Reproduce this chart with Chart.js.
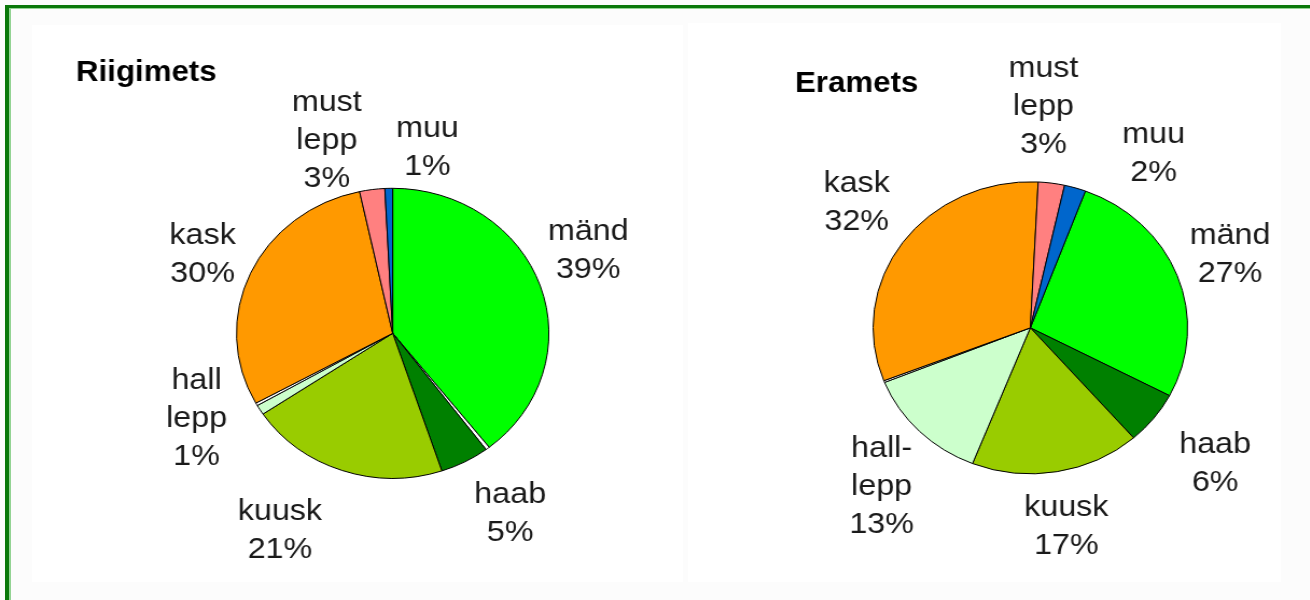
<!DOCTYPE html>
<html>
<head>
<meta charset="utf-8">
<script src="https://cdn.jsdelivr.net/npm/chart.js@4.4.1/dist/chart.umd.min.js"></script>
<style>
html,body{margin:0;padding:0;}
body{width:1310px;height:600px;background:#fcfcfc;position:relative;overflow:hidden;font-family:"Liberation Sans",Arial,sans-serif;}
#frameDark{position:absolute;left:5px;top:5px;right:0;bottom:0;border-left:4px solid #0a780a;border-top:3px solid #0a780a;}
#frameLight{position:absolute;left:9px;top:8px;right:0;bottom:0;border-left:2px solid #93d393;border-top:1px solid #93d393;}
.panel{position:absolute;background:#fff;}
#p1{left:32px;top:25px;width:651px;height:557px;}
#p2{left:688px;top:23px;width:593px;height:559px;}
.wrap{position:absolute;top:0;width:609px;height:600px;transform:scaleX(1.077);transform-origin:0 0;}
#w1{left:0;}
#w2{left:655px;}
canvas{display:block;}
</style>
</head>
<body>
<div id="frameDark"></div>
<div id="frameLight"></div>
<div class="panel" id="p1"></div>
<div class="panel" id="p2"></div>
<div class="wrap" id="w1"><canvas id="c1" width="609" height="600"></canvas></div>
<div class="wrap" id="w2"><canvas id="c2" width="609" height="600"></canvas></div>
<script>
// ---- data ----
const titleRiigimets = 'Riigimets';
const titleEramets = 'Eramets';
const categoriesRiigimets = ['mänd', '', 'haab', 'kuusk', ['hall', 'lepp'], '', 'kask', ['must', 'lepp'], 'muu'];
const categoriesEramets   = ['mänd', '', 'haab', 'kuusk', ['hall-', 'lepp'], '', 'kask', ['must', 'lepp'], 'muu'];
const valuesRiigimets = [39.4, 0.4, 5.1, 20.7, 1.1, 0.3, 29.6, 2.6, 0.8];
const valuesEramets   = [27.0, 0,   5.9, 17.4, 12.9, 0.2, 31.7, 2.7, 2.2];
const sliceColors = ['#00ff00', '#ffffff', '#008000', '#99cc00', '#ccffcc', '#ffffff', '#ff9900', '#ff8080', '#0066cc'];

// ---- styling / layout ----
const LABEL_FONT = '30px "Liberation Sans", Arial, sans-serif';
const TITLE_FONT = 'bold 29px "Liberation Sans", Arial, sans-serif';
const LINE_H = 38;
const BASE_OFF = 10.5;
// label placement per slice: [angle shift from slice middle (deg), distance beyond pie edge (px)]
const labelPlaceRiigimets = [[-5.9, 55.3], null, [-4.0, 63.6], [9.3, 76.5], [7.3, 55.2], null, [0.2, 49.2], [-9.9, 58.8], [11.2, 45.2]];
const labelPlaceEramets   = [[-1.3, 54.3], null, [-0.3, 71.8], [0.1, 53.5], [-3.4, 62.8], null, [2.5, 59.5], [-4.6, 77.6], [16.4, 64.6]];

const labelPlugin = {
  id: 'pieLabels',
  afterDatasetsDraw(chart, args, opts) {
    const ctx = chart.ctx;
    const meta = chart.getDatasetMeta(0);
    const ds = chart.data.datasets[0];
    const total = ds.data.reduce((a, b) => a + b, 0);
    ctx.save();
    ctx.font = LABEL_FONT;
    ctx.fillStyle = '#1a1a1a';
    ctx.textAlign = 'center';
    ctx.textBaseline = 'alphabetic';
    meta.data.forEach((arc, i) => {
      const lab = chart.data.labels[i];
      const pl = opts.place[i];
      if (!lab || !pl || ds.data[i] === 0) return;
      const lines = (Array.isArray(lab) ? lab.slice() : [lab]);
      lines.push(Math.round(ds.data[i] / total * 100) + '%');
      const a = (arc.startAngle + arc.endAngle) / 2 + pl[0] * Math.PI / 180;
      const d = arc.outerRadius + pl[1];
      const x = arc.x + d * Math.cos(a), y = arc.y + d * Math.sin(a);
      const n = lines.length;
      lines.forEach((l, k) => {
        ctx.fillText(l, x, y + (k - (n - 1) / 2) * LINE_H + BASE_OFF);
      });
    });
    ctx.font = TITLE_FONT;
    ctx.textAlign = 'left';
    ctx.fillStyle = '#000';
    ctx.fillText(opts.text, opts.x, opts.y);
    ctx.restore();
  }
};

function makePie(canvasId, categories, values, rotation, cu, cv, r, place, title, tx, ty) {
  const W = 609, H = 600, half = r + 10;
  return new Chart(document.getElementById(canvasId), {
    type: 'pie',
    data: {
      labels: categories,
      datasets: [{
        data: values,
        backgroundColor: sliceColors,
        borderColor: '#000',
        borderWidth: 1
      }]
    },
    options: {
      responsive: false,
      animation: false,
      events: [],
      rotation: rotation,
      radius: r,
      layout: {padding: {left: cu - half, right: W - cu - half, top: cv - half, bottom: H - cv - half}},
      plugins: {
        legend: {display: false},
        tooltip: {enabled: false},
        title: {display: false},
        pieLabels: {text: title, x: tx, y: ty, place: place}
      }
    },
    plugins: [labelPlugin]
  });
}

makePie('c1', categoriesRiigimets, valuesRiigimets, 0, 364.6, 333.3, 145, labelPlaceRiigimets, titleRiigimets, 70.6, 81);
makePie('c2', categoriesEramets, valuesEramets, 20.5, 348.5, 327.8, 146, labelPlaceEramets, titleEramets, 130, 91.7);
</script>
</body>
</html>
